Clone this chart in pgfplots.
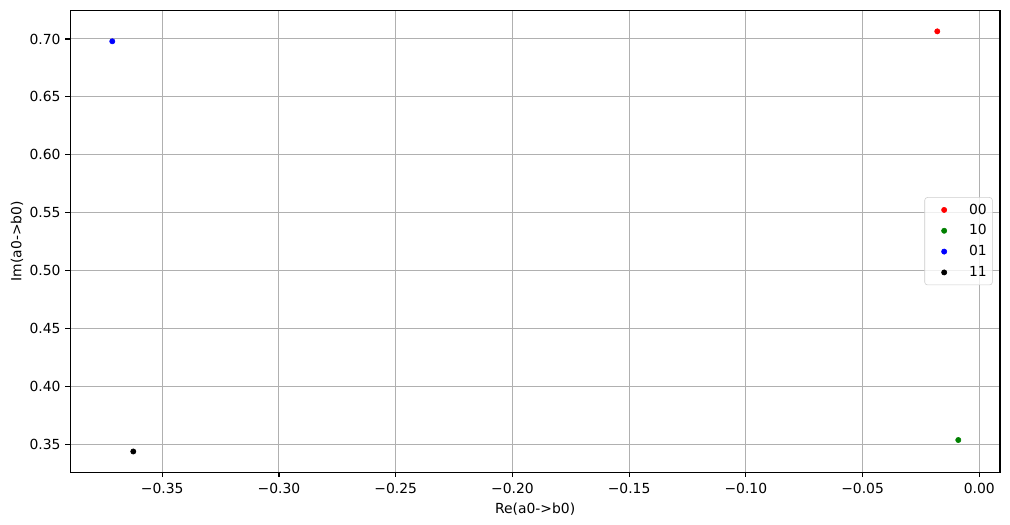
\documentclass[border=0pt]{standalone}
\usepackage{fontspec}
\setmainfont{DejaVu Sans}
\usepackage{pgfplots}
\pgfplotsset{compat=1.18}
\definecolor{gridgray}{HTML}{B0B0B0}
\definecolor{mplgreen}{HTML}{008000}
\definecolor{legframe}{HTML}{CCCCCC}
\pgfplotsset{mpllegend/.style={legend image code/.code={%
  \path[draw=none,fill=none] (0pt,-3pt) rectangle (20pt,3pt);
  \draw[##1,fill opacity=1,draw opacity=1] plot coordinates {(10pt,0pt)};}}}
\begin{document}
\fontsize{10}{12}\selectfont
\begin{tikzpicture}
\useasboundingbox (-50.6pt,-37.9pt) rectangle (676.8pt,340pt);
\begin{axis}[
  at={(0,0)}, anchor=south west,
  scale only axis, width=669.6pt, height=332.6pt,
  xmin=-0.3894, xmax=0.00887, ymin=0.3258, ymax=0.7248,
  xtick={-0.35,-0.3,-0.25,-0.2,-0.15,-0.1,-0.05,0},
  xticklabels={−0.35,−0.30,−0.25,−0.20,−0.15,−0.10,−0.05,0.00},
  ytick={0.35,0.4,0.45,0.5,0.55,0.6,0.65,0.7},
  yticklabels={0.35,0.40,0.45,0.50,0.55,0.60,0.65,0.70},
  tick label style={font=\fontsize{10}{12}\selectfont},
  xticklabel style={anchor=center, yshift=-8.3pt},
  yticklabel style={anchor=east},
  tick pos=left, tick align=outside,
  major tick length=3.5pt,
  every tick/.style={black, line width=0.8pt},
  axis line style={line width=0.8pt},
  grid=major,
  major grid style={color=gridgray, line width=0.72pt},
  xlabel={Re(a0->b0)}, ylabel={Im(a0->b0)},
  label style={font=\fontsize{10}{12}\selectfont},
  xlabel style={at={(axis description cs:0.5,-0.0794)}, anchor=center},
  ylabel style={at={(axis description cs:-0.0573,0.5)}, anchor=center},
  legend style={at={(1,0.5)}, anchor=east, xshift=-5.3pt,
    draw=legframe, rounded corners=2pt, fill=white, fill opacity=0.8, text opacity=1,
    font=\fontsize{10}{12}\selectfont, row sep=5pt, column sep=8pt,
    inner xsep=4pt, inner ysep=4pt,
    nodes={inner sep=0pt, text height=8pt, text depth=2pt}},
  legend cell align=left,
]
\addplot[only marks, mark=*, mark size=1.9pt, color=red, mpllegend] coordinates {(-0.0180,0.7066)};
\addlegendentry{00}
\addplot[only marks, mark=*, mark size=1.9pt, color=mplgreen, mpllegend] coordinates {(-0.0090,0.3535)};
\addlegendentry{10}
\addplot[only marks, mark=*, mark size=1.9pt, color=blue, mpllegend] coordinates {(-0.3714,0.6980)};
\addlegendentry{01}
\addplot[only marks, mark=*, mark size=1.9pt, color=black, mpllegend] coordinates {(-0.3624,0.3436)};
\addlegendentry{11}
\end{axis}
\end{tikzpicture}
\end{document}
